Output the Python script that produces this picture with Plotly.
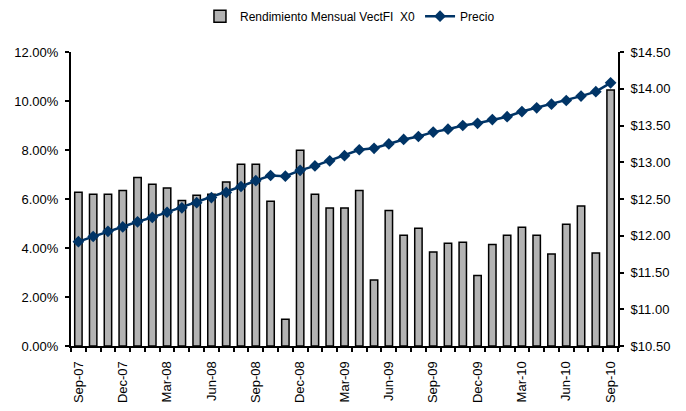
import plotly.graph_objects as go

meses = ["Sep-07", "Oct-07", "Nov-07", "Dec-07", "Jan-08", "Feb-08", "Mar-08", "Apr-08",
         "May-08", "Jun-08", "Jul-08", "Aug-08", "Sep-08", "Oct-08", "Nov-08", "Dec-08",
         "Jan-09", "Feb-09", "Mar-09", "Apr-09", "May-09", "Jun-09", "Jul-09", "Aug-09",
         "Sep-09", "Oct-09", "Nov-09", "Dec-09", "Jan-10", "Feb-10", "Mar-10", "Apr-10",
         "May-10", "Jun-10", "Jul-10", "Aug-10", "Sep-10"]

rendimiento = [0.0628, 0.0619, 0.0619, 0.0635, 0.0688, 0.0660, 0.0645, 0.0594,
               0.0615, 0.0619, 0.0669, 0.0742, 0.0742, 0.0591, 0.0109, 0.0799,
               0.0619, 0.0563, 0.0563, 0.0635, 0.0269, 0.0553, 0.0452, 0.0481,
               0.0384, 0.0419, 0.0423, 0.0288, 0.0414, 0.0452, 0.0485, 0.0452,
               0.0376, 0.0497, 0.0571, 0.0380, 0.1045]

precio = [11.92, 11.99, 12.06, 12.12, 12.19, 12.25, 12.32, 12.38,
          12.45, 12.52, 12.59, 12.67, 12.75, 12.82, 12.81, 12.89,
          12.95, 13.02, 13.09, 13.17, 13.19, 13.25, 13.31, 13.35,
          13.41, 13.45, 13.50, 13.53, 13.58, 13.62, 13.69, 13.74,
          13.79, 13.84, 13.90, 13.96, 14.08]

etiquetas = [m if i % 3 == 0 else "" for i, m in enumerate(meses)]

fuente = "Liberation Sans Narrow, Arial Narrow, Liberation Sans, Arial"

fig = go.Figure()
fig.add_trace(go.Bar(
    x=meses, y=rendimiento, name="Rendimiento Mensual VectFI  X0",
    marker=dict(color="#b3b3b3", line=dict(color="black", width=1.5)),
    width=0.5,
))
fig.add_trace(go.Scatter(
    x=meses, y=precio, name="Precio", yaxis="y2",
    mode="lines+markers",
    line=dict(color="#003466", width=2.5),
    marker=dict(symbol="diamond", size=9, color="#003466"),
))

tick = dict(ticklen=4, tickcolor="black", tickwidth=1.5)

# la pagina tiene 8px de margen en el body, se compensa aqui
fig.update_layout(
    width=686, height=411,
    margin=dict(l=63, r=76, t=44, b=73, autoexpand=False),
    plot_bgcolor="white", paper_bgcolor="white",
    font=dict(family=fuente, size=13, color="black"),
    showlegend=True,
    legend=dict(orientation="h", x=0.51, xanchor="center",
                yref="container", y=0.98, yanchor="middle",
                font=dict(size=12), traceorder="normal", itemwidth=30),
    bargap=0.5,
    xaxis=dict(
        type="category", tickmode="array", tickvals=meses, ticktext=etiquetas,
        tickangle=-90, tickson="boundaries", ticks="outside", **tick,
        automargin=False, ticklabelstandoff=8,
        showline=True, linecolor="black", linewidth=2,
        showgrid=False, range=[-0.5, 36.5],
    ),
    yaxis=dict(
        range=[0, 0.12], dtick=0.02, tickformat=".2%", automargin=False,
        ticks="outside", **tick, ticklabelstandoff=4,
        showline=True, linecolor="black", linewidth=2,
        showgrid=False, zeroline=False,
    ),
    yaxis2=dict(
        overlaying="y", side="right", automargin=False,
        range=[10.5, 14.5], dtick=0.5, tickformat="$.2f",
        ticks="outside", **tick, ticklabelstandoff=4,
        showline=True, linecolor="black", linewidth=2,
        showgrid=False, zeroline=False,
    ),
    # ejes extra solo para las marcas hacia dentro (cruzadas)
    xaxis2=dict(
        overlaying="x", anchor="y", side="bottom", range=[-0.5, 36.5],
        tickmode="linear", tick0=-0.5, dtick=1, ticks="inside", **tick,
        showticklabels=False, showline=False, showgrid=False, zeroline=False,
    ),
    yaxis3=dict(
        overlaying="y", anchor="x", side="left", range=[0, 0.12], dtick=0.02,
        ticks="inside", **tick,
        showticklabels=False, showline=False, showgrid=False, zeroline=False,
    ),
    yaxis4=dict(
        overlaying="y", anchor="x", side="right", range=[10.5, 14.5], dtick=0.5,
        ticks="inside", **tick,
        showticklabels=False, showline=False, showgrid=False, zeroline=False,
    ),
)

fig.write_html("out.html")
